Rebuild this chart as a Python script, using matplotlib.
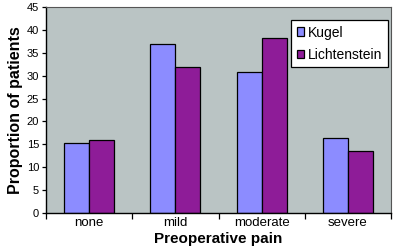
import numpy as np
import matplotlib.pyplot as plt

plt.rcParams['font.family'] = ['Liberation Sans', 'DejaVu Sans']

categories = ['none', 'mild', 'moderate', 'severe']
kugel = [15.2, 37.0, 30.8, 16.4]
lichtenstein = [15.9, 32.0, 38.2, 13.6]

fig = plt.figure(figsize=(3.94, 2.48), dpi=100)
ax = fig.add_axes([46/394, 35/248, 345/394, 206/248])
ax.set_facecolor('#BAC4C4')

x = np.arange(len(categories))
w = 0.29
ax.bar(x - w/2, kugel, w, color='#8C8CFF', edgecolor='black', linewidth=0.9, label='Kugel')
ax.bar(x + w/2, lichtenstein, w, color='#8E1C98', edgecolor='black', linewidth=0.9, label='Lichtenstein')

ax.set_xlim(-0.5, 3.5)
ax.set_ylim(0, 45)
ax.set_yticks(range(0, 46, 5))
ax.set_xticks(x)
ax.set_xticklabels(categories)
ax.set_xticks(np.arange(-0.5, 4, 1), minor=True)
ax.tick_params(axis='x', which='major', length=0, labelsize=9.5, pad=3)
ax.tick_params(axis='x', which='minor', length=4, width=0.9, direction='out')
ax.tick_params(axis='y', length=3, width=0.9, labelsize=8, pad=2)

for s in ['left', 'bottom']:
    ax.spines[s].set_linewidth(1.0)
    ax.spines[s].set_color('black')
for s in ['top', 'right']:
    ax.spines[s].set_linewidth(0.8)
    ax.spines[s].set_color('#555555')

ax.set_xlabel('Preoperative pain', fontsize=11, fontweight='bold', labelpad=2)
ax.set_ylabel('Proportion of patients', fontsize=11.5, fontweight='bold', labelpad=3)

leg = ax.legend(loc='upper right', bbox_to_anchor=(0.992, 0.937), fontsize=10, frameon=True,
                fancybox=False, edgecolor='black', handlelength=0.55, handleheight=0.55,
                handletextpad=0.3, borderpad=0.4, labelspacing=0.6, borderaxespad=0)
leg.get_frame().set_linewidth(0.9)
leg.get_frame().set_facecolor('white')
leg.get_frame().set_alpha(1)

fig.savefig('out.png', dpi=100)
